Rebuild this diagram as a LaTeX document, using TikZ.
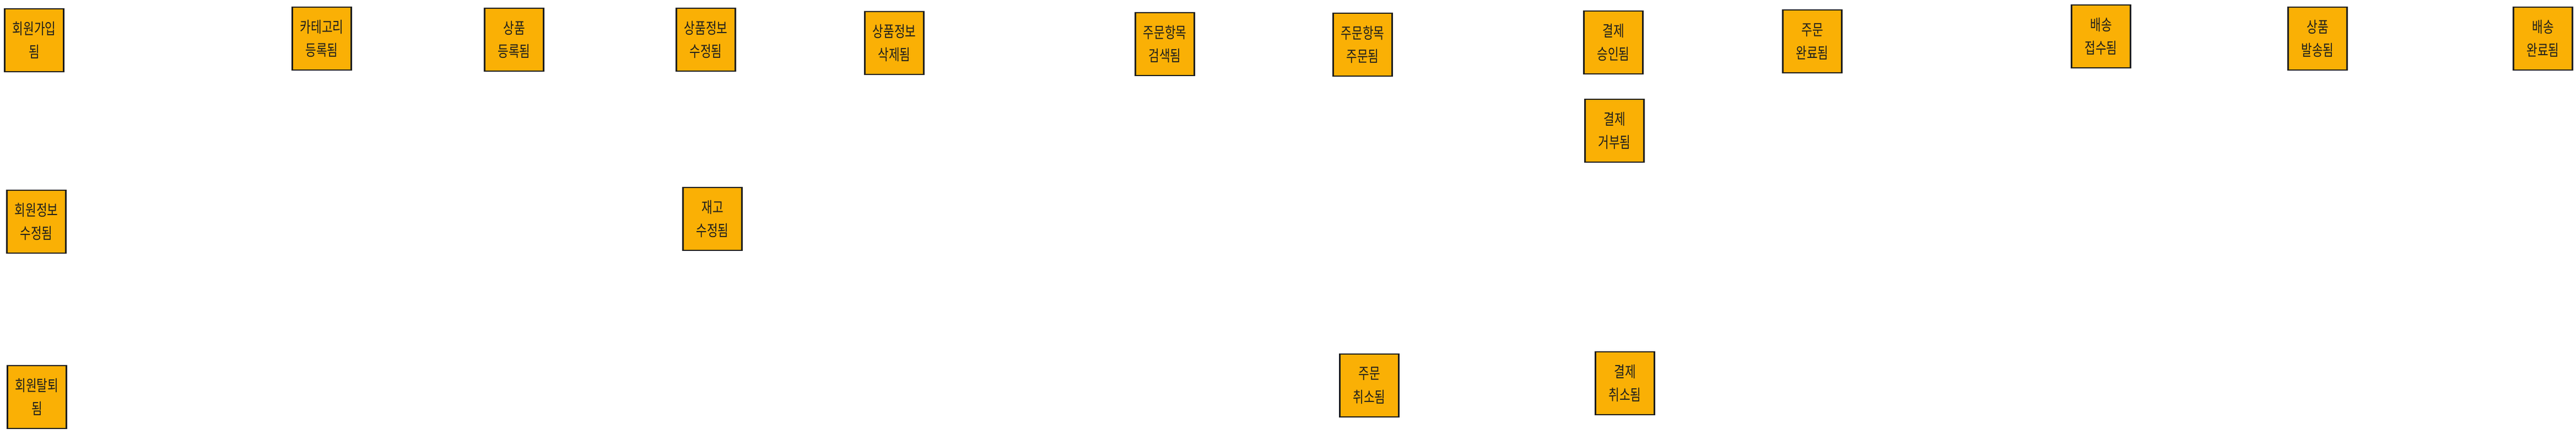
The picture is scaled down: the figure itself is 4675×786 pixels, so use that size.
\documentclass[tikz,border=0pt]{standalone}
\usepackage{fontspec}
\newfontfamily\cjk[FakeStretch=0.76]{Noto Sans CJK KR}
\definecolor{sticky}{HTML}{FAB005}
\definecolor{ink}{HTML}{1E1E1E}
\begin{document}
\begin{tikzpicture}[x=0.1mm,y=-0.1mm,
		event/.style={draw=ink,fill=sticky,line width=0.65pt,minimum width=1.07cm,minimum height=1.14cm,inner sep=0pt,align=center,text=ink,font=\cjk\fontsize{8}{12}\selectfont}]
			\useasboundingbox (0,0) rectangle (4675,786);
			\node[event] (joined) at (62,73) {회원가입\\됨};
			\node[event] (catreg) at (584,70) {카테고리\\등록됨};
			\node[event] (prodreg) at (933,72) {상품\\등록됨};
			\node[event] (prodedit) at (1281,72) {상품정보\\수정됨};
			\node[event] (proddel) at (1623,78) {상품정보\\삭제됨};
			\node[event] (itemfound) at (2114,80) {주문항목\\검색됨};
			\node[event] (itemordered) at (2473,81) {주문항목\\주문됨};
			\node[event] (payok) at (2928,77) {결제\\승인됨};
			\node[event] (orderdone) at (3289,75) {주문\\완료됨};
			\node[event] (shipin) at (3813,66) {배송\\접수됨};
			\node[event] (prodsent) at (4206,70) {상품\\발송됨};
			\node[event] (shipdone) at (4615,70) {배송\\완료됨};
			\node[event] (payno) at (2930,237) {결제\\거부됨};
			\node[event] (memberedit) at (66,402) {회원정보\\수정됨};
			\node[event] (stockedit) at (1293,397) {재고\\수정됨};
			\node[event] (left) at (67,720) {회원탈퇴\\됨};
			\node[event] (ordercancel) at (2485,699) {주문\\취소됨};
			\node[event] (paycancel) at (2949,695) {결제\\취소됨};
		\end{tikzpicture}
\end{document}
